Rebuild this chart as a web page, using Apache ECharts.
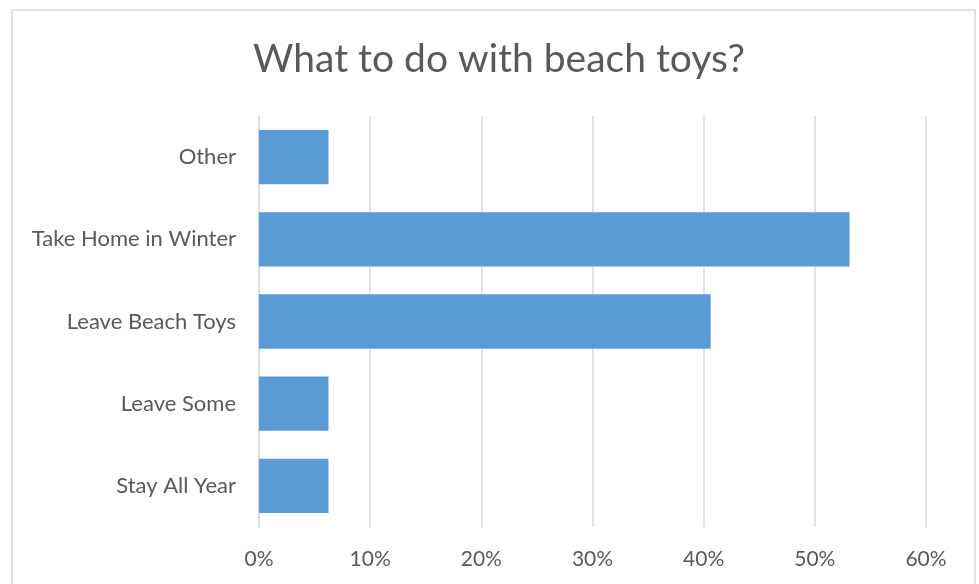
<!DOCTYPE html>
<html><head><meta charset="utf-8">
<script src="https://cdn.jsdelivr.net/npm/echarts@6/dist/echarts.min.js"></script>
<style>html,body{margin:0;padding:0;background:#fff}#c{width:979px;height:584px}</style>
</head><body><div id="c"></div>
<script>
const title = 'What to do with beach toys?';
const categories = ['Stay All Year', 'Leave Some', 'Leave Beach Toys', 'Take Home in Winter', 'Other'];
const values = [6.25, 6.25, 40.625, 53.125, 6.25];
const xTicks = [0, 10, 20, 30, 40, 50, 60];

const FONT = 'Lato';
const chart = echarts.init(document.getElementById('c'), null, {renderer: 'canvas'});
chart.setOption({
  animation: false,
  title: {
    text: title, left: 494, top: 35, textAlign: 'center',
    textStyle: {fontFamily: FONT, fontSize: 39, fontWeight: 'normal', color: '#595959'}
  },
  graphic: [{
    type: 'rect', shape: {x: 12, y: 10, width: 963, height: 600},
    style: {fill: 'none', stroke: '#d9d9d9', lineWidth: 1.5}, silent: true, z: -1
  }],
  grid: {left: 259, right: 53, top: 116, bottom: 57, containLabel: false},
  xAxis: {
    type: 'value', min: xTicks[0], max: xTicks[xTicks.length - 1], interval: 10,
    axisLine: {show: false}, axisTick: {show: false},
    splitLine: {show: true, lineStyle: {color: '#d9d9d9', width: 1.5}},
    axisLabel: {formatter: '{value}%', fontFamily: FONT, fontSize: 21, color: '#595959', margin: 22}
  },
  yAxis: {
    type: 'category', data: categories,
    axisLine: {show: true, lineStyle: {color: '#d9d9d9', width: 1.5}},
    axisTick: {show: false},
    axisLabel: {fontFamily: FONT, fontSize: 22, color: '#595959', margin: 23}
  },
  series: [{
    type: 'bar', data: values, barCategoryGap: '34%',
    itemStyle: {color: '#5b9bd5'}
  }]
});
</script></body></html>
